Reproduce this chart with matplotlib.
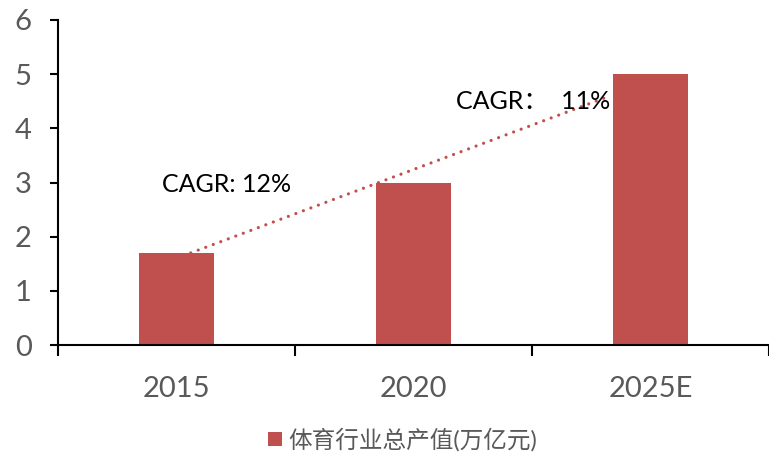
import matplotlib.pyplot as plt
from matplotlib.patches import Patch

plt.rcParams['font.family'] = ['Lato', 'Noto Sans CJK SC', 'DejaVu Sans']

categories = ["2015", "2020", "2025E"]
values = [1.7, 3.0, 5.0]
series_name = "体育行业总产值(万亿元)"

# dotted trend line (category units, value units)
trend_x = [0.06, 1.83]
trend_y = [1.70, 4.60]

cagr_labels = ["CAGR: 12%", "CAGR：  11%"]
cagr_pos = [(-0.06, 2.97), (1.18, 4.5)]

bar_color = "#C0504D"
tick_color = "#595959"

fig = plt.figure(figsize=(7.69, 4.54), dpi=100)
ax = fig.add_axes([58 / 769, 1 - 345 / 454, 1 - 58 / 769, (345 - 20) / 454])

x = list(range(len(categories)))
ax.bar(x, values, width=0.32, color=bar_color, zorder=2)
ax.plot(trend_x, trend_y, linestyle=(0, (0.01, 2.5)), linewidth=2.3,
        color=bar_color, dash_capstyle="round", zorder=3)

for label, (tx, ty) in zip(cagr_labels, cagr_pos):
    ax.text(tx, ty, label, fontsize=18, color="black", va="center", ha="left", zorder=4)

ax.set_xlim(-0.5, 2.49)
ax.set_ylim(0, 6)
ax.set_yticks(range(0, 7))

ax.set_xticks(x)
ax.set_xticklabels(categories)
ax.set_xticks([-0.5, 0.5, 1.5, 2.5], minor=True)
ax.tick_params(axis="x", which="major", length=0, pad=22, labelsize=21, labelcolor=tick_color)
ax.tick_params(axis="x", which="minor", length=8, width=1.5, direction="out")
ax.tick_params(axis="y", length=6, width=1.5, direction="out", pad=13,
               labelsize=21, labelcolor=tick_color)

for side in ["top", "right"]:
    ax.spines[side].set_visible(False)
for side in ["left", "bottom"]:
    ax.spines[side].set_linewidth(1.5)
    ax.spines[side].set_color("black")

handle = Patch(facecolor=bar_color, edgecolor="none")
fig.legend([handle], [series_name], loc="center", bbox_to_anchor=(0.523, 0.032),
           frameon=False, fontsize=17, labelcolor=tick_color,
           handlelength=0.6, handleheight=0.6, handletextpad=0.25,
           borderpad=0.1)

fig.savefig("out.png", dpi=100)
